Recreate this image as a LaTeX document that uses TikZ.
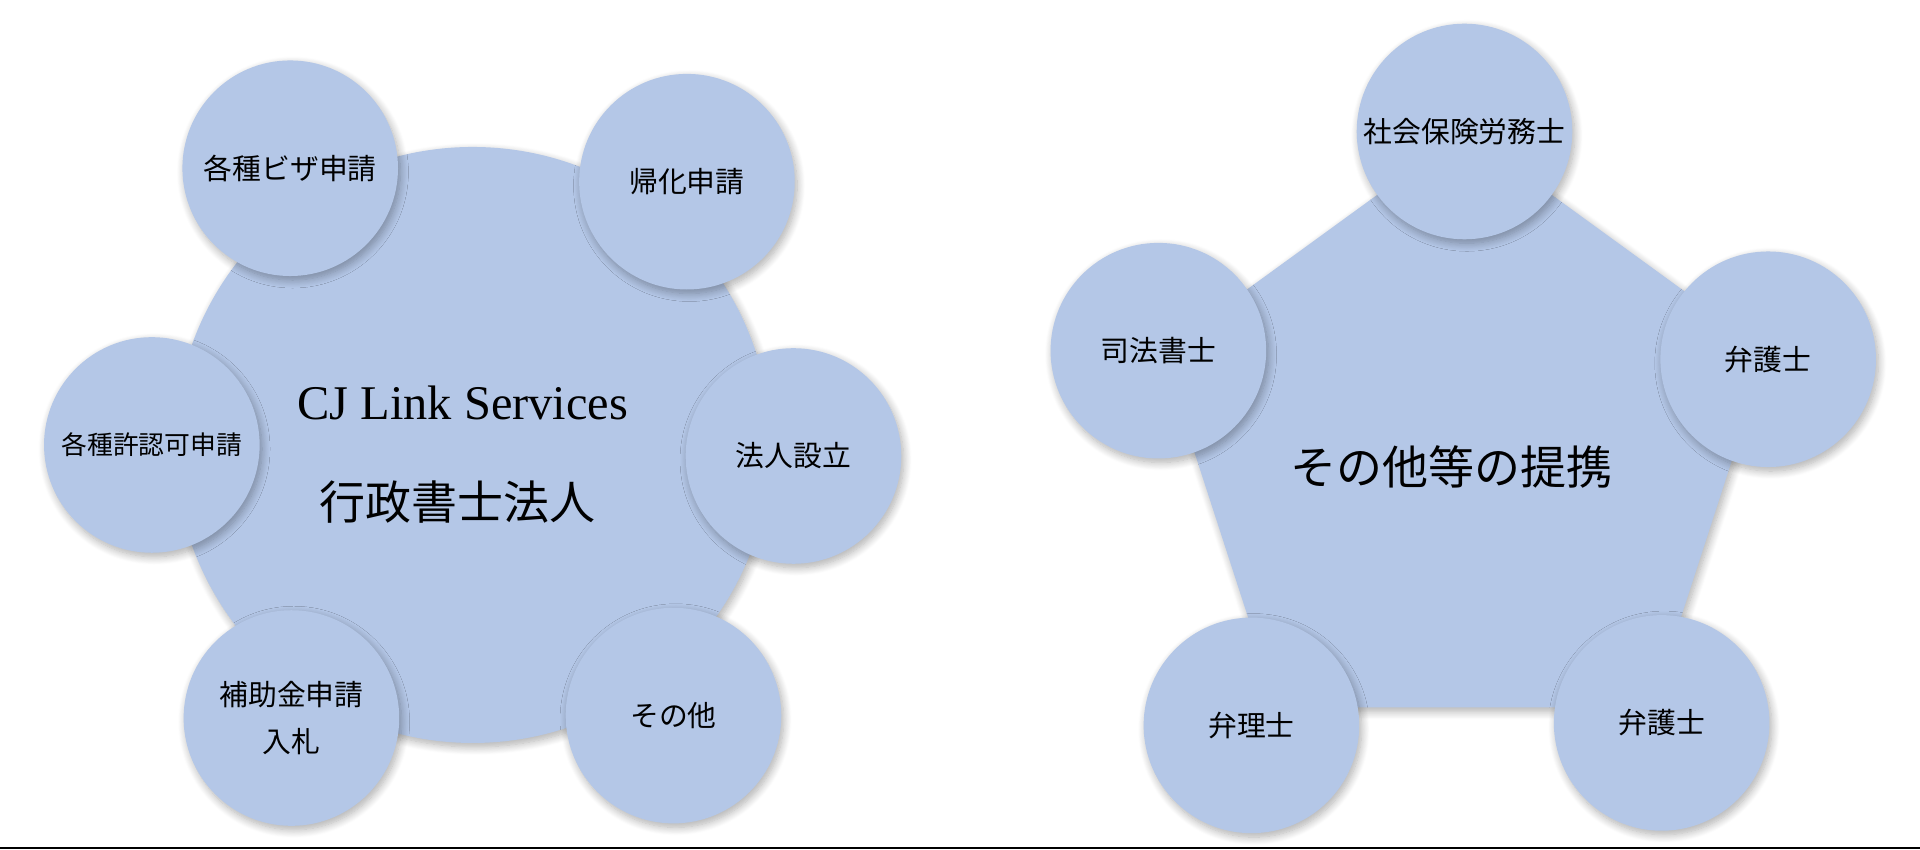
\documentclass[tikz,border=0pt]{standalone}
\usepackage{fontspec}
\setmainfont{Liberation Serif}
\newfontfamily\jp{Noto Sans CJK JP}
\usepackage{tikz}
\usetikzlibrary{shapes.geometric}
\usetikzlibrary{shadows.blur}
\definecolor{bubbleblue}{RGB}{180, 199, 231}

\begin{document}
\begin{tikzpicture}[x=0.61224pt, y=0.61224pt,
    softshadow/.style={blur shadow={shadow xshift=1.2pt, shadow yshift=-2pt, shadow blur steps=10, shadow blur radius=4pt, shadow opacity=32}},
    bubble/.style={circle, fill=bubbleblue, softshadow, inner sep=0pt, minimum size=107.8pt, align=center, font=\jp\fontsize{14.4}{23.9}\selectfont},
    core/.style={circle, fill=bubbleblue, softshadow, inner sep=0pt, minimum size=298pt}]
    \useasboundingbox (0, 0) rectangle (1568, 693.4);

    % left: the office and its services
    \node[core] (office) at (386, 330) {};
    \node[anchor=base, font=\fontsize{24.2}{29}\selectfont] (name) at (378, 351) {CJ Link Services};
    \node[font=\jp\fontsize{23}{28}\selectfont] (kind) at (374, 283) {行政書士法人};

    \node[bubble] (visa) at (237, 556) {各種ビザ申請};
    \node[bubble] (kika) at (561, 545) {帰化申請};
    \node[bubble, font=\jp\fontsize{12.9}{16}\selectfont] (permit) at (124, 330) {各種許認可申請};
    \node[bubble] (company) at (648, 321) {法人設立};
    \node[bubble] (subsidy) at (238, 107) {補助金申請\\入札};
    \node[bubble] (other) at (550, 109) {その他};

    % right: partners
    \node[regular polygon, regular polygon sides=5, fill=bubbleblue, softshadow, inner sep=0pt, minimum size=318.4pt] (partner) at (1196, 326) {};
    \node[font=\jp\fontsize{23}{28}\selectfont] (tie) at (1185, 312) {その他等の提携};

    \node[bubble] (sharoushi) at (1196, 586) {社会保険労務士};
    \node[bubble] (shihou) at (946, 407) {司法書士};
    \node[bubble] (bengo) at (1444, 400) {弁護士};
    \node[bubble] (benri) at (1022, 101) {弁理士};
    \node[bubble] (bengob) at (1357, 103) {弁護士};

    \draw[line width=1.2pt] (0, 1) -- (1568, 1);
\end{tikzpicture}
\end{document}
